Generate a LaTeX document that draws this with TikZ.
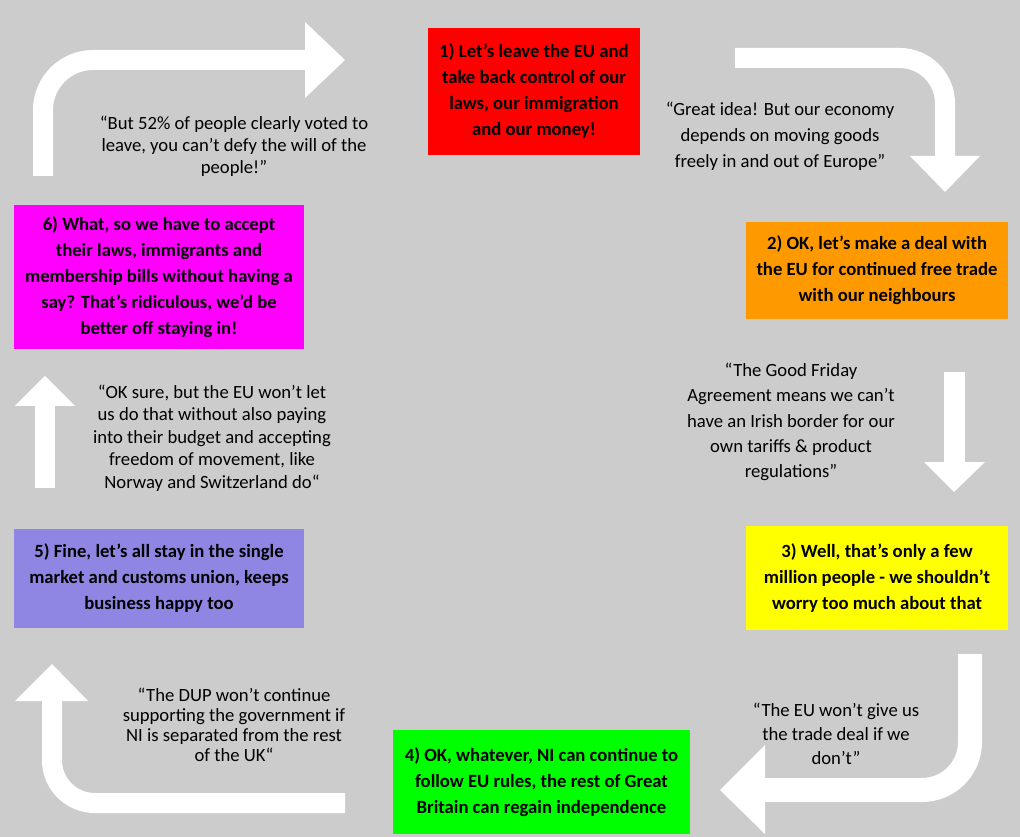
\documentclass[tikz,border=0pt]{standalone}
\usepackage{fontspec}
\setmainfont{Carlito}
\definecolor{bggrey}{RGB}{204,204,204}
\definecolor{boxorange}{RGB}{255,153,0}
\definecolor{boxpurple}{RGB}{142,134,226}
\definecolor{boxmagenta}{RGB}{255,0,255}
\definecolor{boxgreen}{RGB}{0,255,0}
\definecolor{boxyellow}{RGB}{255,255,0}
\begin{document}
\begin{tikzpicture}[x=0.75pt, y=-0.75pt,
    stage/.style={rectangle, inner sep=0pt, align=center, text=black,
        font=\fontsize{14}{19.5}\selectfont\bfseries},
    quote/.style={align=center, inner sep=0pt, text=black,
        font=\fontsize{14}{#1}\selectfont},
    shaft/.style={draw=white, line width=15pt},
    arrowhead/.style={fill=white}]

    % background
    \fill[bggrey] (0,0) rectangle (1020,837);

    % STAGES: the six boxes round the cycle
    \node[stage, fill=red, minimum width=159pt, minimum height=95.25pt] (leave) at (534,91.5)
        {1) Let’s leave the EU and\\take back control of our\\laws, our immigration\\and our money!};
    \node[stage, fill=boxorange, minimum width=196.5pt, minimum height=72.75pt] (deal) at (877,270.5)
        {2) OK, let’s make a deal with\\the EU for continued free trade\\with our neighbours};
    \node[stage, fill=boxyellow, minimum width=196.5pt, minimum height=78pt] (few) at (877,578)
        {3) Well, that’s only a few\\million people - we shouldn’t\\worry too much about that};
    \node[stage, fill=boxgreen, minimum width=222.75pt, minimum height=78pt] (rules) at (541.5,782)
        {4) OK, whatever, NI can continue to\\follow EU rules, the rest of Great\\Britain can regain independence};
    \node[stage, fill=boxpurple, minimum width=217.5pt, minimum height=74.25pt] (single) at (159,578.5)
        {5) Fine, let’s all stay in the single\\market and customs union, keeps\\business happy too};
    \node[stage, fill=boxmagenta, minimum width=217.5pt, minimum height=108pt] (accept) at (159,277)
        {6) What, so we have to accept\\their laws, immigrants and\\membership bills without having a\\say? That’s ridiculous, we’d be\\better off staying in!};

    % QUOTES: the replies between the stages
    \node[quote=16.3pt] (q1) at (234,146.5)
        {“But 52\% of people clearly voted to\\leave, you can’t defy the will of the\\people!”};
    \node[quote=19.3pt] (q2) at (780,136.5)
        {“Great idea! But our economy\\depends on moving goods\\freely in and out of Europe”};
    \node[quote=19pt] (q3) at (791,422)
        {“The Good Friday\\Agreement means we can’t\\have an Irish border for our\\own tariffs \& product\\regulations”};
    \node[quote=18pt] (q4) at (836,734)
        {“The EU won’t give us\\the trade deal if we\\don’t”};
    \node[quote=15pt] (q5) at (234,725)
        {“The DUP won’t continue\\supporting the government if\\NI is separated from the rest\\of the UK“};
    \node[quote=16.9pt] (q6) at (212,438)
        {“OK sure, but the EU won’t let\\us do that without also paying\\into their budget and accepting\\freedom of movement, like\\Norway and Switzerland do“};

    % ARROWS: shaft ends
    \coordinate (a1s) at (43,176);   \coordinate (a1e) at (305,60);
    \coordinate (a2s) at (735,58);   \coordinate (a2e) at (945,156);
    \coordinate (a3s) at (954,372);  \coordinate (a3e) at (954,462);
    \coordinate (a4s) at (970,654);  \coordinate (a4e) at (765,790);
    \coordinate (a5s) at (345,803);  \coordinate (a5e) at (52,701);
    \coordinate (a6s) at (45,488);   \coordinate (a6e) at (45,406);

    % 6 -> 1
    \draw[shaft, rounded corners=37.5pt] (a1s) |- (a1e);
    \fill[arrowhead] (305,22) -- (345,60) -- (305,98) -- cycle;
    % 1 -> 2
    \draw[shaft, rounded corners=34pt] (a2s) -| (a2e);
    \fill[arrowhead] (910,156) -- (945,192) -- (980,156) -- cycle;
    % 2 -> 3
    \draw[shaft, line width=15.75pt] (a3s) -- (a3e);
    \fill[arrowhead] (924,462) -- (954,492) -- (985,462) -- cycle;
    % 3 -> 4
    \draw[shaft, line width=18pt, rounded corners=36pt] (a4s) |- (a4e);
    \fill[arrowhead] (765,745) -- (720,790) -- (765,834) -- cycle;
    % 4 -> 5
    \draw[shaft, rounded corners=32pt] (a5s) -| (a5e);
    \fill[arrowhead] (15,701) -- (52,664) -- (88,701) -- cycle;
    % 5 -> 6
    \draw[shaft] (a6s) -- (a6e);
    \fill[arrowhead] (15,406) -- (45,376) -- (75,406) -- cycle;
\end{tikzpicture}
\end{document}
